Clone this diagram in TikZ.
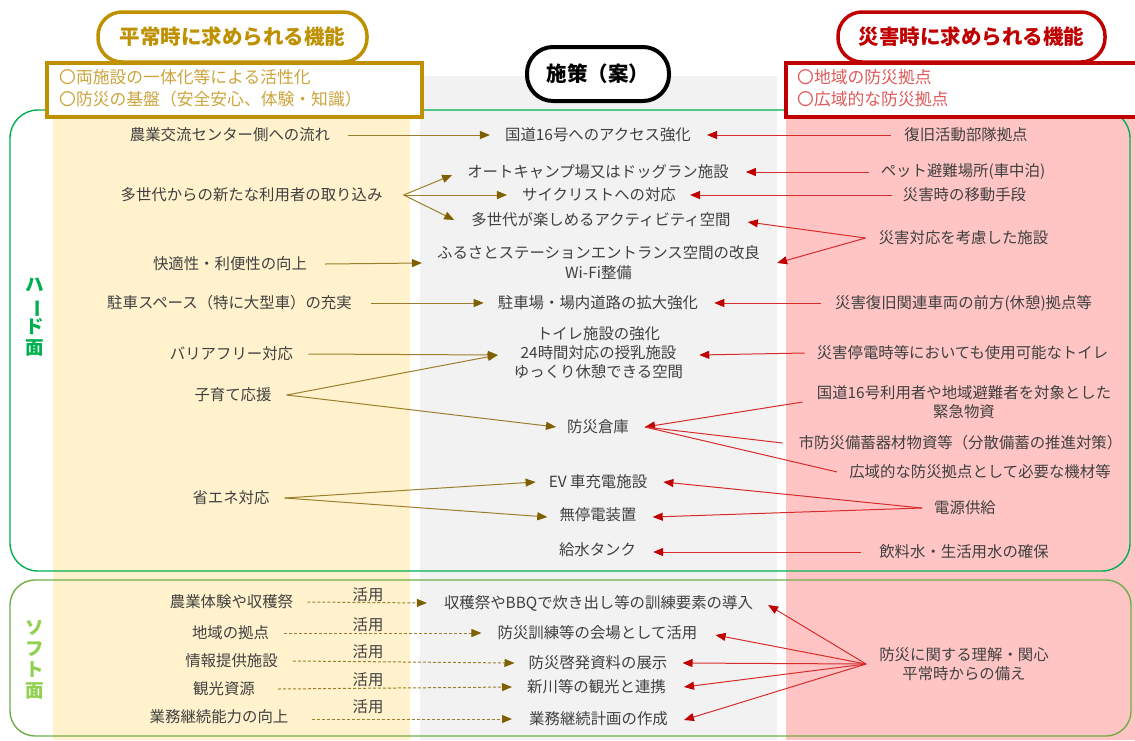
\documentclass[tikz,border=0pt]{standalone}
\usepackage{fontspec}
\usepackage{graphicx}
\setmainfont{Noto Sans CJK JP}
\usetikzlibrary{arrows.meta}
\definecolor{tgray}{HTML}{404040}
\definecolor{colyellow}{HTML}{FFF2CC}
\definecolor{colgray}{HTML}{F2F2F2}
\definecolor{colpink}{HTML}{FFC5C5}
\definecolor{hardgreen}{HTML}{00B050}
\definecolor{softgreen}{HTML}{70AD47}
\definecolor{softtext}{HTML}{92D050}
\definecolor{golddark}{HTML}{BF9000}
\definecolor{goldlight}{HTML}{CCA53C}
\definecolor{reddark}{HTML}{C00000}
\definecolor{redlight}{HTML}{E05A5A}
\definecolor{goldline}{HTML}{9C7F2E}
\definecolor{goldtip}{HTML}{7F6000}
\definecolor{redline}{HTML}{D82C2C}
\definecolor{redtip}{HTML}{C00000}
\newcommand\bodyfs{\fontsize{15.4pt}{19pt}\selectfont}
\newcommand\headfs{\fontsize{16.8pt}{22pt}\selectfont}
\newcommand\pillfs{\fontsize{20.5pt}{22pt}\selectfont\bfseries}
\newcommand\vertfs{\fontsize{18.5pt}{21pt}\selectfont\bfseries}
\begin{document}
\begin{tikzpicture}[x=1pt,y=-1pt,
  txt/.style={text=tgray, inner sep=0pt, font=\bodyfs, align=center},
  garr/.style={draw=goldline, line width=1pt, -{Triangle[length=10pt,width=8pt,color=goldtip]}},
  gdash/.style={garr, dash pattern=on 3pt off 2pt},
  rarr/.style={draw=redline, line width=1pt, -{Triangle[length=10pt,width=8pt,color=redtip]}},
  rplain/.style={draw=redline, line width=1pt},
  gplain/.style={draw=goldline, line width=1pt},
  pill/.style={draw, fill=white, line width=3.5pt, rounded corners=24pt, inner sep=0pt, font=\pillfs},
  hbox/.style={draw, fill=white, line width=4pt, inner sep=0pt}
]
\useasboundingbox (0,0) rectangle (1135,740);
\fill[white] (0,0) rectangle (1135,740);
% columns
\fill[colyellow] (53,63) rectangle (410,740);
\fill[colgray] (420,76) rectangle (777,740);
\fill[colpink] (786,63) rectangle (1135,740);
% frames
\draw[hardgreen, line width=1.4pt, rounded corners=28pt] (10,110) rectangle (1130,571);
\draw[softgreen, line width=1.4pt, rounded corners=25pt] (10,580) rectangle (1131,736);
% headers
\node[hbox, draw=golddark, minimum width=375pt, minimum height=54pt] (LB) at (234.5,90) {};
\node[anchor=west, text=goldlight, font=\headfs, align=left, inner sep=0pt] (LBT) at (59,88.5) {〇両施設の一体化等による活性化\\〇防災の基盤（安全安心、体験・知識）};
\node[pill, draw=golddark, text=golddark, minimum width=269pt, minimum height=50pt] (LP) at (232.5,37) {平常時に求められる機能};
\node[hbox, draw=reddark, minimum width=360pt, minimum height=54pt] (RB) at (966,90) {};
\node[anchor=west, text=redlight, font=\headfs, align=left, inner sep=0pt] (RBT) at (797,88.5) {〇地域の防災拠点\\〇広域的な防災拠点};
\node[pill, draw=reddark, text=reddark, minimum width=267pt, minimum height=50pt] (RP) at (971.5,37) {災害時に求められる機能};
\node[pill, draw=black, text=black, line width=4pt, rounded corners=26pt, minimum width=142pt, minimum height=54pt] (MP) at (598,74) {施策（案）};
% vertical labels
\node[text=hardgreen, font=\vertfs, align=center, inner sep=0pt] (HL) at (35,317.5) {ハ\\\rotatebox[origin=c]{-90}{ー}\\ド\\面};
\node[text=softtext, font=\vertfs, align=center, inner sep=0pt] (SL) at (35,659.5) {ソ\\フ\\ト\\面};
% left texts
\node[txt] (L1) at (230,135) {農業交流センター側への流れ};
\node[txt] (L2) at (251.5,195) {多世代からの新たな利用者の取り込み};
\node[txt] (L3) at (230,264) {快適性・利便性の向上};
\node[txt] (L4) at (229.5,303) {駐車スペース（特に大型車）の充実};
\node[txt] (L5) at (231.5,354) {バリアフリー対応};
\node[txt] (L6) at (233,395) {子育て応援};
\node[txt] (L7) at (231,498) {省エネ対応};
\node[txt] (S1) at (231.5,602) {農業体験や収穫祭};
\node[txt] (S2) at (230.5,633) {地域の拠点};
\node[txt] (S3) at (231.5,661) {情報提供施設};
\node[txt] (S4) at (224,689) {観光資源};
\node[txt] (S5) at (219,717) {業務継続能力の向上};
\node[txt] (U1) at (368,595) {活用};
\node[txt] (U2) at (368,625) {活用};
\node[txt] (U3) at (368,652) {活用};
\node[txt] (U4) at (368,680) {活用};
\node[txt] (U5) at (368,707) {活用};
% middle texts
\node[txt] (M1) at (598,135) {国道16号へのアクセス強化};
\node[txt] (M2) at (598,172) {オートキャンプ場又はドッグラン施設};
\node[txt] (M3) at (599,195) {サイクリストへの対応};
\node[txt] (M4) at (601,220) {多世代が楽しめるアクティビティ空間};
\node[txt, font=\fontsize{15.4pt}{20pt}\selectfont] (M5) at (598.5,263) {ふるさとステーションエントランス空間の改良\\Wi-Fi整備};
\node[txt] (M6) at (598,303) {駐車場・場内道路の拡大強化};
\node[txt] (M7) at (598.5,353) {トイレ施設の強化\\24時間対応の授乳施設\\ゆっくり休憩できる空間};
\node[txt] (M8) at (598,427) {防災倉庫};
\node[txt] (M9) at (598,482) {EV 車充電施設};
\node[txt] (M10) at (598,515) {無停電装置};
\node[txt] (M11) at (597.5,550) {給水タンク};
\node[txt] (M12) at (598.5,603) {収穫祭やBBQで炊き出し等の訓練要素の導入};
\node[txt] (M13) at (597.5,633) {防災訓練等の会場として活用};
\node[txt] (M14) at (598,663) {防災啓発資料の展示};
\node[txt] (M15) at (596.5,687) {新川等の観光と連携};
\node[txt] (M16) at (598.5,719) {業務継続計画の作成};
% right texts
\node[txt] (R1) at (966,135) {復旧活動部隊拠点};
\node[txt] (R2) at (963,172) {ペット避難場所(車中泊)};
\node[txt] (R3) at (964.5,195) {災害時の移動手段};
\node[txt] (R4) at (963.5,238) {災害対応を考慮した施設};
\node[txt] (R5) at (963.5,303) {災害復旧関連車両の前方(休憩)拠点等};
\node[txt] (R6) at (962.5,353) {災害停電時等においても使用可能なトイレ};
\node[txt] (R7) at (964,402) {国道16号利用者や地域避難者を対象とした\\緊急物資};
\node[txt] (R8) at (960.5,443) {市防災備蓄器材物資等（分散備蓄の推進対策）};
\node[txt] (R9) at (980,472) {広域的な防災拠点として必要な機材等};
\node[txt] (R10) at (965,508) {電源供給};
\node[txt] (R11) at (964,552) {飲料水・生活用水の確保};
\node[txt] (R12) at (964,664) {防災に関する理解・関心\\平常時からの備え};
% branch points
\coordinate (B2) at ([xshift=21pt]L2.east);
\coordinate (B6) at ([xshift=15pt]L6.east);
\coordinate (B7) at ([xshift=15pt]L7.east);
\coordinate (C4) at ([xshift=-13pt]R4.west);
\coordinate (C10) at ([xshift=-12pt]R10.west);
\coordinate (C12) at ([xshift=-13pt]R12.west);
% gold connectors
\draw[garr] ([xshift=18pt]L1.east) -- ([xshift=-15pt]M1.west);
\draw[garr] (B2) -- ([xshift=-15pt,yshift=-3pt]M2.west);
\draw[garr] (B2) -- ([xshift=-15pt]M3.west);
\draw[garr] (B2) -- ([xshift=-17pt]M4.west);
\draw[garr] ([xshift=18pt]L3.east) -- ([xshift=-15pt]M5.west);
\draw[garr] ([xshift=19pt]L4.east) -- ([xshift=-14pt]M6.west);
\draw[garr] ([xshift=15pt]L5.east) -- ([xshift=-16pt,yshift=-2pt]M7.west);
\draw[garr] (B6) -- ([xshift=-16pt,yshift=-2pt]M7.west);
\draw[garr] (B6) -- ([xshift=-11pt]M8.west);
\draw[garr] (B7) -- ([xshift=-13pt]M9.west);
\draw[garr] (B7) -- ([xshift=-12pt,yshift=-2pt]M10.west);
\draw[gdash] ([xshift=14pt]S1.east) -- ([xshift=-17pt]M12.west);
\draw[gdash] ([xshift=15pt]S2.east) -- ([xshift=-16pt]M13.west);
\draw[gdash] ([xshift=15pt]S3.east) -- ([xshift=-14pt]M14.west);
\draw[gdash] ([xshift=23pt]S4.east) -- ([xshift=-15pt]M15.west);
\draw[gdash] ([xshift=23pt,yshift=-2pt]S5.east) -- ([xshift=-17pt]M16.west);
% red connectors
\draw[rarr] ([xshift=-13pt]R1.west) -- ([xshift=16pt]M1.east);
\draw[rarr] ([xshift=-12pt]R2.west) -- ([xshift=17pt]M2.east);
\draw[rarr] ([xshift=-11pt]R3.west) -- ([xshift=14pt]M3.east);
\draw[rarr] (C4) -- ([xshift=17pt,yshift=-2pt]M4.east);
\draw[rarr] (C4) -- ([xshift=17pt]M5.east);
\draw[rarr] ([xshift=-14pt]R5.west) -- ([xshift=16pt]M6.east);
\draw[rarr] ([xshift=-12pt]R6.west) -- ([xshift=16pt,yshift=-2pt]M7.east);
\draw[rarr] ([xshift=-14pt]R7.west) -- ([xshift=16pt]M8.east);
\draw[rplain] ([xshift=-16pt]R8.west) -- ([xshift=16pt]M8.east);
\draw[rplain] ([xshift=-12pt]R9.west) -- ([xshift=16pt]M8.east);
\draw[rarr] (C10) -- ([xshift=16pt]M9.east);
\draw[rarr] (C10) -- ([xshift=16pt,yshift=-2pt]M10.east);
\draw[rarr] ([xshift=-18pt]R11.west) -- ([xshift=17pt,yshift=-2pt]M11.east);
\draw[rarr] (C12) -- ([xshift=15pt,yshift=-2pt]M12.east);
\draw[rarr] (C12) -- ([xshift=18pt,yshift=-2pt]M13.east);
\draw[rarr] (C12) -- ([xshift=15pt]M14.east);
\draw[rarr] (C12) -- ([xshift=18pt]M15.east);
\draw[rarr] (C12) -- ([xshift=16pt,yshift=-1pt]M16.east);
\end{tikzpicture}
\end{document}
